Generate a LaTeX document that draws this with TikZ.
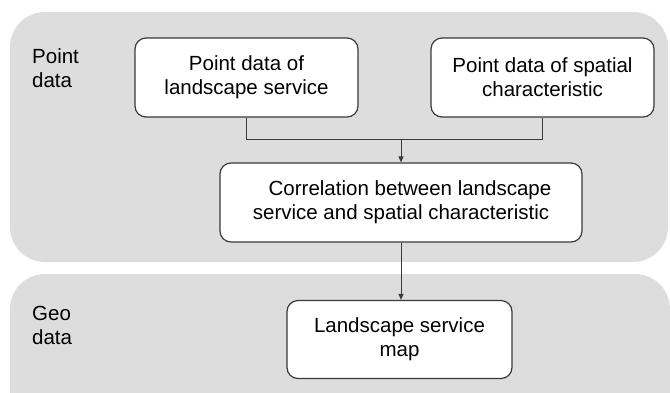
\documentclass[tikz,border=0pt]{standalone}
\usepackage{fontspec}
\setmainfont{Liberation Sans}
\usetikzlibrary{arrows.meta,calc}
\definecolor{panelgray}{RGB}{221,221,221}
\definecolor{edgegray}{RGB}{58,58,58}
\begin{document}
\begin{tikzpicture}[x=1pt,y=-1pt,
  txt/.style={font=\fontsize{20.5}{24}\selectfont, text=black},
  panel/.style={fill=panelgray, draw=none, rounded corners=35pt},
  procbox/.style={txt, draw=edgegray, line width=1.2pt, fill=white,
    rounded corners=11pt, align=center, inner sep=0pt},
  link/.style={draw=edgegray, line width=1pt},
  flow/.style={link, -{Triangle[length=6pt,width=5pt]}}]
  \useasboundingbox (0,0) rectangle (670,392);
  \clip (0,0) rectangle (670,392);

  % background bands
  \path[panel] (10,12) rectangle (668,262);
  \path[panel] (10,274) rectangle (670,430);

  % band labels
  \node[txt, anchor=north west, inner sep=0pt, align=left] (lpoint) at (32,48) {Point\\data};
  \node[txt, anchor=north west, inner sep=0pt, align=left] (lgeo) at (32,306) {Geo\\data};

  % process boxes
  \node[procbox, minimum width=223pt, minimum height=79pt] (b1) at (246.5,77.5)
    {Point data of\\landscape service};
  \node[procbox, minimum width=223pt, minimum height=79pt] (b2) at (542.5,77.5)
    {Point data of spatial\\characteristic};
  \node[procbox, minimum width=362pt, minimum height=79pt] (b3) at (401,202.5)
    {\hspace*{18pt}Correlation between landscape\\service and spatial characteristic};
  \node[procbox, minimum width=225pt, minimum height=78pt] (b4) at (399.5,339.5)
    {Landscape service\\map};

  % connectors
  \coordinate (j) at ($(b3.north)+(0,-23)$);
  \draw[link] (b1.south) |- (j) -| (b2.south);
  \draw[flow] (j) -- (b3.north);
  \draw[flow] (b3.south) -- (b3.south |- b4.north);
\end{tikzpicture}
\end{document}
